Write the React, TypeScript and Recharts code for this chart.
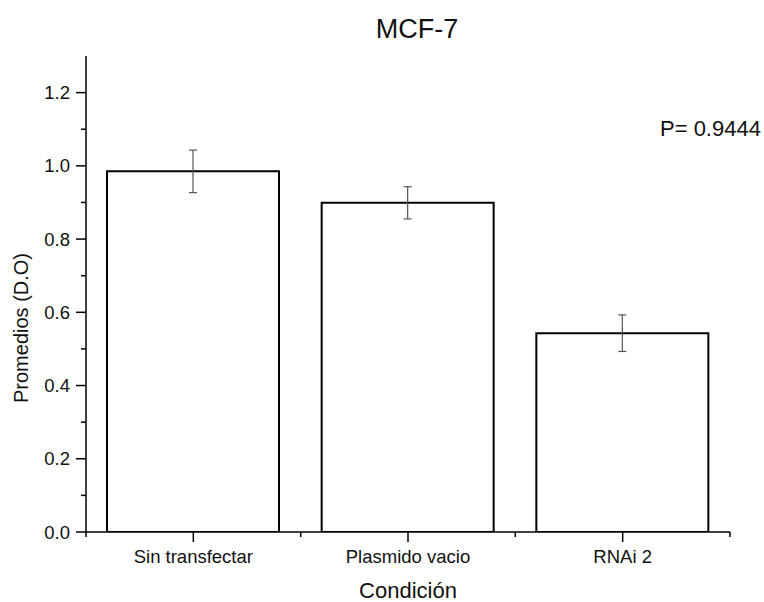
import React from 'react';
import { BarChart, Bar, XAxis, YAxis, ErrorBar } from 'recharts';

const CONDITIONS = ['Sin transfectar', 'Plasmido vacio', 'RNAi 2'];
const MEANS = [0.985, 0.899, 0.543];
const ERRORS = [0.058, 0.044, 0.05];

// y ticks every 0.1, labelled every 0.2
const Y_TICKS = [0, 0.1, 0.2, 0.3, 0.4, 0.5, 0.6, 0.7, 0.8, 0.9, 1.0, 1.1, 1.2];
// x ticks: category centres (major) and boundaries (minor)
const X_TICKS = [-0.5, 0, 0.5, 1, 1.5, 2, 2.5];

const FONT = '"Liberation Sans", Arial, sans-serif';
const TEXT = '#111';

const data = CONDITIONS.map((name, i) => ({ name, idx: i, mean: MEANS[i], err: ERRORS[i] }));

const isMajorY = (v: number) => Math.round(v * 10) % 2 === 0;
const isMajorX = (v: number) => Number.isInteger(v);

function YTick(props: any) {
  const { x, y, payload } = props;
  const v = payload.value as number;
  const major = isMajorY(v);
  // text x sits tickSize(10) + tickMargin(6) left of the axis line
  return (
    <g>
      <line x1={x + 16} x2={x + (major ? 6 : 11)} y1={y} y2={y} stroke="#000" strokeWidth={1.5} />
      {major && (
        <text x={x} y={y} dy="0.355em" textAnchor="end" fontSize={18.5} fill={TEXT} fontFamily={FONT}>
          {v.toFixed(1)}
        </text>
      )}
    </g>
  );
}

function XTick(props: any) {
  const { x, y, payload } = props;
  const v = payload.value as number;
  const major = isMajorX(v);
  // text y sits tickSize(10) + tickMargin(8) below the axis line
  return (
    <g>
      <line x1={x} x2={x} y1={y - 18} y2={y - (major ? 8 : 13)} stroke="#000" strokeWidth={1.5} />
      {major && (
        <text x={x} y={y} dy="0.71em" textAnchor="middle" fontSize={18.5} fill={TEXT} fontFamily={FONT}>
          {CONDITIONS[v]}
        </text>
      )}
    </g>
  );
}

export default function App() {
  return (
    <div style={{ position: 'absolute', left: 0, top: 0, width: 764, height: 602, background: '#fff', fontFamily: FONT }}>
      <BarChart width={764} height={602} data={data} margin={{ top: 56, right: 34, bottom: 0, left: 0 }}>
        <XAxis
          dataKey="idx"
          type="number"
          domain={[-0.5, 2.5]}
          ticks={X_TICKS}
          interval={0}
          height={70}
          stroke="#000"
          strokeWidth={1.5}
          tickLine={false}
          tickSize={10}
          tickMargin={8}
          tick={<XTick />}
          allowDataOverflow
        />
        <YAxis
          width={86}
          domain={[0, 1.3]}
          ticks={Y_TICKS}
          interval={0}
          stroke="#000"
          strokeWidth={1.5}
          tickLine={false}
          tickSize={10}
          tickMargin={6}
          tick={<YTick />}
          allowDataOverflow
        />
        <Bar dataKey="mean" barSize={172} fill="#fff" stroke="#000" strokeWidth={2} isAnimationActive={false}>
          <ErrorBar dataKey="err" width={4} stroke="#555" strokeWidth={1.2} direction="y" />
        </Bar>
      </BarChart>
      <svg width={764} height={602} style={{ position: 'absolute', left: 0, top: 0, pointerEvents: 'none' }}>
        <text x={417} y={38} textAnchor="middle" fontSize={27} fill={TEXT} fontFamily={FONT}>MCF-7</text>
        <text x={660} y={136} fontSize={22} fill={TEXT} fontFamily={FONT}>P= 0.9444</text>
        <text x={28} y={328} textAnchor="middle" fontSize={20} fill={TEXT} fontFamily={FONT} transform="rotate(-90 28 328)">
          Promedios (D.O)
        </text>
        <text x={408} y={598} textAnchor="middle" fontSize={22} fill={TEXT} fontFamily={FONT}>Condición</text>
      </svg>
    </div>
  );
}
